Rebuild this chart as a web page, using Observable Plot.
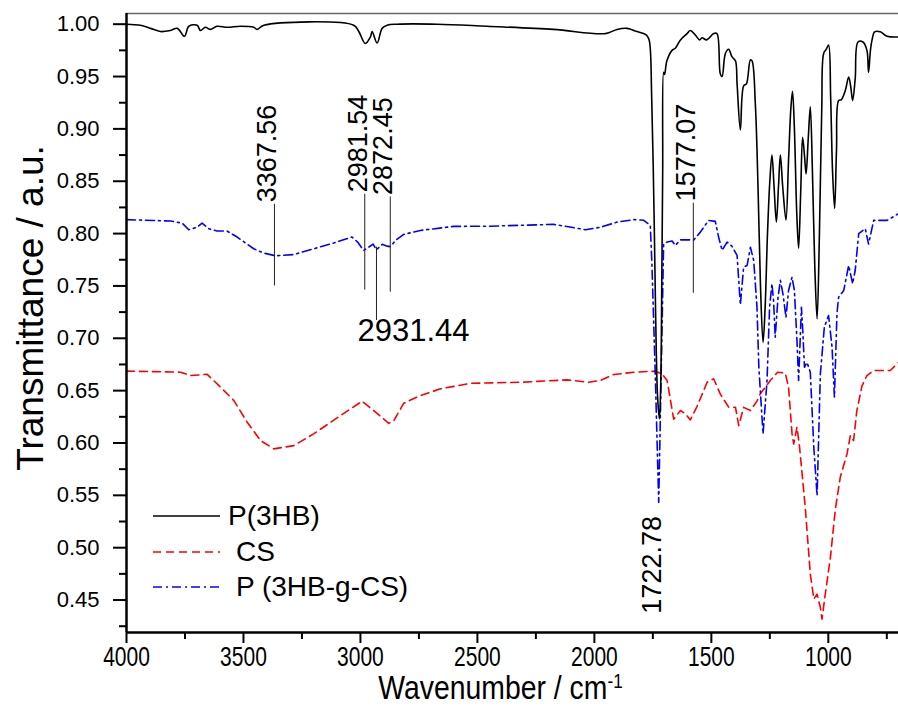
<!DOCTYPE html>
<html>
<head>
<meta charset="utf-8">
<script src="https://cdn.jsdelivr.net/npm/d3@7"></script>
<script src="https://cdn.jsdelivr.net/npm/@observablehq/plot@0.6"></script>
<style>
  html, body { margin: 0; padding: 0; background: #fff; }
  #wrap { position: relative; width: 898px; height: 714px; font-family: "Liberation Sans", Arial, sans-serif; }
  #legend { position: absolute; left: 0; top: 0; width: 0; height: 0; }
  .lg-row { position: absolute; display: flex; align-items: center; font-size: 28px; color: #000; white-space: nowrap; }
</style>
</head>
<body>
<div id="wrap"><div id="legend"></div></div>
<script>
// ---- Data ----
const seriesNames = ["P(3HB)", "CS", "P (3HB-g-CS)"];

const p3hbWn = [4000,3940,3897,3855,3812,3783,3752,3734,3698,3684,3663,3641,3613,3570,3513,3456,3442,3413,3029,3007,2979,2957,2950,2929,2907,2886,2843,2672,2459,2175,1953,1903,1860,1818,1790,1775,1765,1755,1745,1738,1730,1722,1716,1712,1708,1704,1700,1690,1668,1654,1632,1604,1590,1568,1550,1540,1520,1490,1476,1462,1454,1440,1426,1412,1397,1390,1376,1362,1350,1333,1326,1312,1300,1290,1279,1270,1260,1250,1241,1232,1222,1213,1205,1195,1181,1170,1160,1153,1145,1135,1127,1118,1110,1102,1095,1086,1077,1068,1058,1048,1038,1028,1020,1009,999,990,982,973,965,956,944,927,913,904,896,885,873,852,835,828,820,813,802,778,749,700];
const p3hbT  = [1.000,0.999,0.996,0.993,0.994,0.996,0.9885,0.998,0.999,0.994,0.997,0.995,0.998,0.997,0.998,0.997,0.995,0.999,0.999,0.993,0.9815,0.988,0.993,0.982,0.996,0.999,1.000,1.000,0.998,0.995,0.991,0.995,0.996,0.993,0.991,0.989,0.984,0.93,0.82,0.72,0.645,0.623,0.66,0.75,0.86,0.954,0.952,0.965,0.975,0.977,0.985,0.991,0.994,0.9895,0.985,0.987,0.985,0.991,0.991,0.953,0.950,0.972,0.976,0.969,0.965,0.943,0.899,0.941,0.943,0.966,0.965,0.924,0.84,0.75,0.696,0.73,0.80,0.85,0.875,0.845,0.811,0.845,0.875,0.845,0.813,0.87,0.92,0.936,0.90,0.82,0.786,0.84,0.892,0.875,0.857,0.89,0.921,0.86,0.77,0.7186,0.80,0.92,0.972,0.976,0.980,0.93,0.86,0.824,0.88,0.927,0.928,0.937,0.9496,0.94,0.927,0.948,0.983,0.983,0.975,0.954,0.975,0.985,0.9927,0.9927,0.9885,0.9878];

const csWn = [4000,3769,3726,3655,3598,3541,3484,3427,3370,3285,3200,3085,2993,2943,2879,2858,2815,2744,2658,2530,2316,2117,2025,1974,1917,1832,1739,1711,1689,1661,1632,1611,1590,1561,1518,1490,1462,1426,1397,1383,1362,1333,1305,1291,1248,1217,1184,1170,1155,1148,1134,1123,1098,1077,1062,1048,1034,1027,1013,991,970,949,920,906,892,878,856,835,806,735,700];
const csT  = [0.6686,0.6676,0.6644,0.6656,0.6533,0.6405,0.6198,0.6023,0.5944,0.5975,0.6087,0.6262,0.6399,0.631,0.6188,0.621,0.638,0.6453,0.6517,0.657,0.658,0.6603,0.658,0.6597,0.6654,0.6676,0.6686,0.666,0.6597,0.6227,0.631,0.628,0.622,0.635,0.658,0.6613,0.6469,0.6342,0.6342,0.6166,0.634,0.631,0.640,0.647,0.6597,0.6676,0.6667,0.6533,0.6087,0.599,0.615,0.5963,0.5371,0.4749,0.451,0.4557,0.443,0.4318,0.4557,0.4908,0.5366,0.5672,0.5896,0.607,0.6023,0.631,0.6545,0.6644,0.6692,0.6692,0.677];

const graftWn = [4000,3812,3762,3734,3698,3677,3648,3613,3570,3527,3456,3413,3363,3285,3200,3114,3036,3012,2986,2965,2946,2932,2907,2886,2872,2850,2815,2744,2601,2459,2174,2038,1974,1903,1832,1789,1761,1754,1739,1725,1715,1704,1689,1668,1654,1632,1575,1547,1512,1483,1469,1454,1433,1412,1390,1376,1362,1347,1333,1319,1305,1297,1279,1262,1251,1241,1234,1227,1215,1205,1194,1181,1170,1155,1145,1134,1127,1115,1110,1102,1091,1077,1062,1048,1034,1017,999,984,974,963,956,934,913,896,885,870,842,828,806,749,700];
const graftT  = [0.8133,0.812,0.810,0.8037,0.806,0.810,0.8047,0.8024,0.8024,0.7967,0.7855,0.7814,0.7788,0.780,0.7855,0.791,0.7967,0.7919,0.7839,0.787,0.790,0.7845,0.7897,0.788,0.7875,0.7935,0.7992,0.803,0.8069,0.807,0.8088,0.8037,0.806,0.811,0.8133,0.8127,0.8078,0.771,0.660,0.5433,0.66,0.790,0.7919,0.793,0.7887,0.794,0.794,0.8014,0.8126,0.8117,0.7967,0.784,0.7919,0.788,0.7792,0.732,0.768,0.7696,0.787,0.7744,0.73,0.6723,0.6087,0.6597,0.730,0.7521,0.736,0.701,0.739,0.7553,0.7425,0.720,0.7457,0.7584,0.7457,0.698,0.6597,0.7297,0.711,0.6723,0.677,0.6676,0.596,0.5497,0.666,0.7106,0.7218,0.6915,0.6437,0.7234,0.7393,0.7457,0.7696,0.7521,0.765,0.80,0.8047,0.790,0.8126,0.8126,0.819];

// peak annotations with vertical marker lines
const peakLabels = ["3367.56", "2981.54", "2872.45", "1577.07"];
const peakWn     = [3367.56, 2981.54, 2872.45, 1577.07];
const peakLo     = [0.750, 0.746, 0.744, 0.743];
const peakHi     = [0.828, 0.8375, 0.835, 0.829];
// label below its marker
const lowLabel = ["2931.44"]; const lowWn = [2931.44]; const lowLo = [0.717]; const lowHi = [0.787];
// label without marker
const bottomLabel = ["1722.78"]; const bottomWn = [1722.78]; const bottomT = [0.437];

const xTicks = [4000, 3500, 3000, 2500, 2000, 1500, 1000];
const xMinor = [3750, 3250, 2750, 2250, 1750, 1250, 750];
const yTicks = [0.45, 0.50, 0.55, 0.60, 0.65, 0.70, 0.75, 0.80, 0.85, 0.90, 0.95, 1.00];
const yMinor = [0.425, 0.475, 0.525, 0.575, 0.625, 0.675, 0.725, 0.775, 0.825, 0.875, 0.925, 0.975];
const xDomain = [4000, 700];
const yDomain = [0.419, 1.0102];

const xTitle = "Wavenumber / cm";
const xTitleSup = "-1";
const yTitle = "Transmittance / a.u.";

// ---- Build tables ----
const toRows = (wn, t) => wn.map((w, i) => ({wn: w, t: t[i]}));
const p3hb = toRows(p3hbWn, p3hbT);
const cs = toRows(csWn, csT);
const graft = toRows(graftWn, graftT);
const peaks = peakLabels.map((l, i) => ({label: l, wn: peakWn[i], lo: peakLo[i], hi: peakHi[i]}));
const lows = lowLabel.map((l, i) => ({label: l, wn: lowWn[i], lo: lowLo[i], hi: lowHi[i]}));
const bottoms = bottomLabel.map((l, i) => ({label: l, wn: bottomWn[i], t: bottomT[i]}));

const font = "'Liberation Sans', Arial, sans-serif";

const chart = Plot.plot({
  width: 898,
  height: 714,
  marginLeft: 126,
  marginRight: 0,
  marginTop: 13,
  marginBottom: 82,
  style: {fontFamily: font, background: "#fff", color: "#000"},
  x: {domain: xDomain},
  y: {domain: yDomain},
  marks: [
    // frame top line
    Plot.ruleY([yDomain[1]], {stroke: "#666", strokeWidth: 1.5}),
    // spectra
    Plot.line(cs, {x: "wn", y: "t", stroke: "#ff0000", strokeWidth: 1.6, strokeDasharray: "8,5"}),
    Plot.line(graft, {x: "wn", y: "t", stroke: "#0000ff", strokeWidth: 1.6, strokeDasharray: "9,4,2,4"}),
    Plot.line(p3hb, {x: "wn", y: "t", stroke: "#000", strokeWidth: 1.6, curve: "catmull-rom"}),
    // annotations
    Plot.ruleX(peaks, {x: "wn", y1: "lo", y2: "hi", stroke: "#222", strokeWidth: 1}),
    Plot.ruleX(lows, {x: "wn", y1: "lo", y2: "hi", stroke: "#222", strokeWidth: 1}),
    Plot.text(peaks, {x: "wn", y: "hi", text: "label", rotate: -90, textAnchor: "start", lineAnchor: "bottom", dy: -2, dx: 2, fontSize: 27, fill: "#000"}),
    Plot.text(lows, {x: "wn", y: "lo", text: "label", textAnchor: "middle", lineAnchor: "top", dx: 37, dy: -2, fontSize: 31, fill: "#000"}),
    Plot.text(bottoms, {x: "wn", y: "t", text: "label", rotate: -90, textAnchor: "start", lineAnchor: "bottom", dx: 2, fontSize: 27, fill: "#000"}),
    // axes
    Plot.axisY(yTicks, {anchor: "left", label: null, tickSize: 13, tickPadding: 14, tickFormat: d3.format(".2f"), fontSize: 22, strokeWidth: 2}),
    Plot.axisY(yMinor, {anchor: "left", label: null, tickSize: 7, tickFormat: () => "", strokeWidth: 2}),
    Plot.axisX(xTicks, {anchor: "bottom", label: null, tickSize: 11, tickPadding: 3, tickFormat: d => String(d), fontSize: 28, strokeWidth: 2}),
    Plot.axisX(xMinor, {anchor: "bottom", label: null, tickSize: 7, tickFormat: () => "", strokeWidth: 2}),
    Plot.ruleX([xDomain[0]], {stroke: "#000", strokeWidth: 2.5}),
    Plot.ruleY([yDomain[0]], {stroke: "#000", strokeWidth: 2.5}),
    // axis titles
    Plot.text([yTitle], {frameAnchor: "left", rotate: -90, textAnchor: "middle", lineAnchor: "middle", dx: -95, dy: -15, fontSize: 37, fill: "#000"}),
    Plot.text([xTitle], {frameAnchor: "bottom", textAnchor: "middle", lineAnchor: "middle", dy: 56, dx: -12, fontSize: 33, fill: "#000"})
  ]
});

// condensed lettering for the x axis (as in the reference)
chart.querySelectorAll("g[aria-label='x-axis tick label'] text").forEach(t => {
  const tr = t.getAttribute("transform") || "";
  t.setAttribute("transform", tr + " scale(0.75,1)");
});
// superscript for the x title + condensed lettering
chart.querySelectorAll("text").forEach(t => {
  if (t.textContent === xTitle) {
    const ts = document.createElementNS("http://www.w3.org/2000/svg", "tspan");
    ts.setAttribute("baseline-shift", "super");
    ts.setAttribute("font-size", "20");
    ts.textContent = xTitleSup;
    t.appendChild(ts);
    const tr = t.getAttribute("transform") || "";
    t.setAttribute("transform", tr + " scale(0.86,1)");
  }
});

const wrap = document.getElementById("wrap");
wrap.insertBefore(chart, wrap.firstChild);

// legend overlay (HTML)
const legendItems = [
  {name: seriesNames[0], color: "#000", dash: null, textLeft: 228, y: 516},
  {name: seriesNames[1], color: "#ff0000", dash: "8,5", textLeft: 236, y: 552},
  {name: seriesNames[2], color: "#0000ff", dash: "9,4,2,4", textLeft: 236, y: 587}
];
const legend = document.getElementById("legend");
legendItems.forEach(it => {
  const sw = document.createElementNS("http://www.w3.org/2000/svg", "svg");
  sw.setAttribute("width", 68); sw.setAttribute("height", 10);
  sw.style.position = "absolute"; sw.style.left = "153px"; sw.style.top = (it.y - 5) + "px";
  const ln = document.createElementNS("http://www.w3.org/2000/svg", "line");
  ln.setAttribute("x1", 0); ln.setAttribute("x2", 67); ln.setAttribute("y1", 5); ln.setAttribute("y2", 5);
  ln.setAttribute("stroke", it.color); ln.setAttribute("stroke-width", 1.6);
  if (it.dash) ln.setAttribute("stroke-dasharray", it.dash);
  sw.appendChild(ln);
  legend.appendChild(sw);
  const tx = document.createElement("div");
  tx.className = "lg-row";
  tx.style.left = it.textLeft + "px";
  tx.style.top = (it.y - 17) + "px";
  tx.style.height = "34px";
  tx.textContent = it.name;
  legend.appendChild(tx);
});
</script>
</body>
</html>
